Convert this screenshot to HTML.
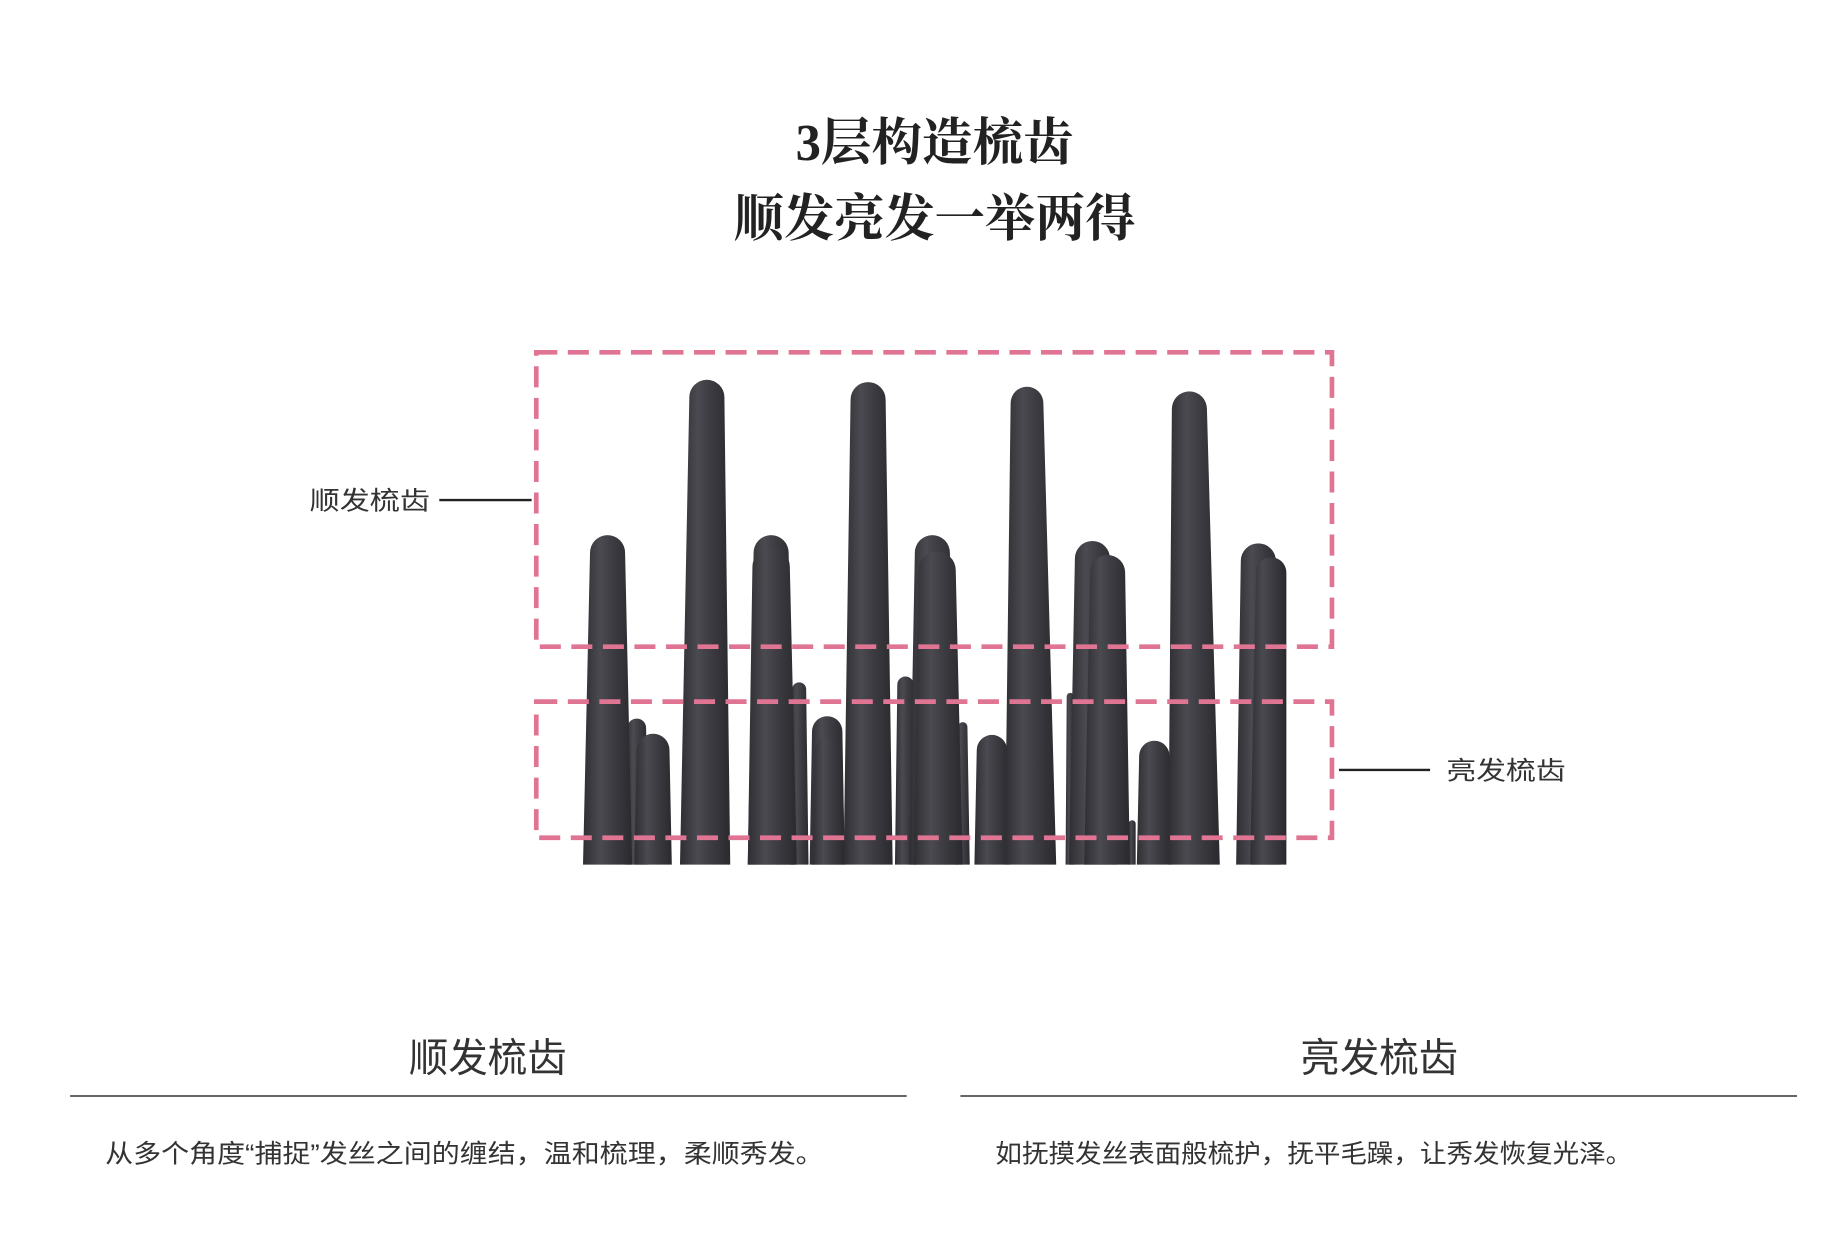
<!DOCTYPE html>
<html><head><meta charset="utf-8"><style>
html,body{margin:0;padding:0;background:#fff;width:1832px;height:1248px;overflow:hidden}
svg{display:block}
.t{font-family:"Liberation Serif","Noto Serif CJK SC",serif;font-weight:bold;fill:#222}
.s{font-family:"Liberation Sans","Noto Sans CJK SC",sans-serif;fill:#333}
</style></head><body>
<svg width="1832" height="1248" viewBox="0 0 1568 1068.12" xmlns="http://www.w3.org/2000/svg">
<defs>
<linearGradient id="g" x1="0" x2="1" y1="0" y2="0">
<stop offset="0" stop-color="#2e2e33"/><stop offset="0.35" stop-color="#4a4a50"/><stop offset="0.6" stop-color="#3c3c42"/><stop offset="1" stop-color="#2a2a2e"/>
</linearGradient>
</defs>
<text class="t" x="800" y="137" font-size="44" text-anchor="middle" textLength="238" lengthAdjust="spacingAndGlyphs">3层构造梳齿</text>
<text class="t" x="800" y="202" font-size="44" text-anchor="middle" textLength="344" lengthAdjust="spacingAndGlyphs">顺发亮发一举两得</text>

<g fill="url(#g)">
<!-- back short teeth -->
<path d="M678,590 A6,6 0 0 1 690,590 L692,740 L676,740 Z"/>
<path d="M768,586 A7,7 0 0 1 782,586 L784,740 L766,740 Z"/>
<path d="M820,622 A4,4 0 0 1 828,622 L830,740 L818,740 Z"/>
<path d="M913,596 A3,3 0 0 1 919,596 L920,740 L912,740 Z"/>
<path d="M537,623 A8,8 0 0 1 553,623 L555,740 L535,740 Z"/>
<path d="M545,642 A14,14 0 0 1 573,642 L575,740 L543,740 Z"/>
<path d="M695,626 A13,13 0 0 1 721,626 L723,740 L693,740 Z"/>
<path d="M697,644 A12,12 0 0 1 721,644 L723,740 L695,740 Z"/>
<path d="M836,642 A13,13 0 0 1 862,642 L864,740 L834,740 Z"/>
<path d="M975,647 A13,13 0 0 1 1001,647 L1003,740 L973,740 Z"/>
<path d="M966,705 A3,3 0 0 1 972,705 L972,740 L966,740 Z"/>
<!-- medium -->
<path d="M505,473 A15,15 0 0 1 535,473 L541,740 L499,740 Z"/>
<path d="M645,473 A15,15 0 0 1 675,473 L680,740 L640,740 Z"/>
<path d="M644,485 A16,16 0 0 1 676,485 L682,740 L640,740 Z"/>
<path d="M783,473 A15,15 0 0 1 813,473 L820,740 L778,740 Z"/>
<path d="M786,488 A16,16 0 0 1 818,488 L824,740 L782,740 Z"/>
<path d="M920,478 A15,15 0 0 1 950,478 L956,740 L915,740 Z"/>
<path d="M933,490 A15,15 0 0 1 963,490 L967,740 L928,740 Z"/>
<path d="M1062,480 A15,15 0 0 1 1092,480 L1096,740 L1058,740 Z"/>
<path d="M1075,490 A13,13 0 0 1 1101,490 L1101,740 L1070,740 Z"/>
<!-- tall -->
<path d="M590,340 A15,15 0 0 1 620,340 L625,740 L582,740 Z"/>
<path d="M728,342 A15,15 0 0 1 758,342 L764,740 L722,740 Z"/>
<path d="M865,345 A14,14 0 0 1 893,345 L904,740 L860,740 Z"/>
<path d="M1003,350 A15,15 0 0 1 1033,350 L1044,740 L1000,740 Z"/>
</g>

<g fill="none" stroke="#df7593" stroke-width="4" stroke-dasharray="18 9">
<rect x="459" y="301.5" width="681" height="252"/>
<rect x="459" y="600.5" width="681" height="116.5"/>
</g>

<line x1="376" y1="428" x2="455" y2="428" stroke="#222" stroke-width="2"/>
<text class="s" x="265" y="436" font-size="22" textLength="103" lengthAdjust="spacingAndGlyphs">顺发梳齿</text>
<line x1="1146" y1="659" x2="1224" y2="659" stroke="#222" stroke-width="2"/>
<text class="s" x="1238" y="667" font-size="22" textLength="102" lengthAdjust="spacingAndGlyphs">亮发梳齿</text>

<text class="s" x="350" y="917" font-size="34" textLength="135" lengthAdjust="spacingAndGlyphs">顺发梳齿</text>
<text class="s" x="1113" y="917" font-size="34" textLength="135" lengthAdjust="spacingAndGlyphs">亮发梳齿</text>
<line x1="60" y1="938" x2="776" y2="938" stroke="#333" stroke-width="1.3"/>
<line x1="822" y1="938" x2="1538" y2="938" stroke="#333" stroke-width="1.3"/>
<text class="s" x="90" y="995" font-size="22" fill="#222" textLength="615" lengthAdjust="spacingAndGlyphs">从多个角度“捕捉”发丝之间的缠结，温和梳理，柔顺秀发。</text>
<text class="s" x="852" y="995" font-size="22" fill="#222" textLength="545" lengthAdjust="spacingAndGlyphs">如抚摸发丝表面般梳护，抚平毛躁，让秀发恢复光泽。</text>
</svg>
</body></html>
